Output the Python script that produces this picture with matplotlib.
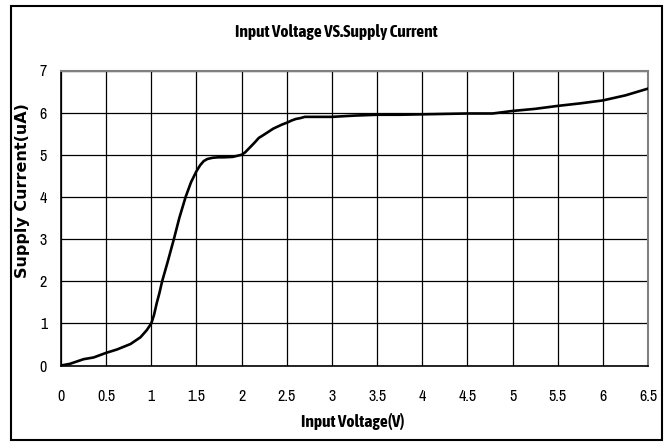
import matplotlib
matplotlib.use("Agg")
import matplotlib.pyplot as plt
from matplotlib import font_manager
from matplotlib.patches import Rectangle

# curve
voltage = [0, 0.1, 0.25, 0.36, 0.5, 0.62, 0.77, 0.88, 0.95, 1.0, 1.03, 1.06,
           1.09, 1.12, 1.18, 1.25, 1.31, 1.38, 1.44, 1.5, 1.54, 1.58, 1.62,
           1.68, 1.74, 1.8, 1.9, 2.0, 2.04, 2.09, 2.14, 2.19, 2.25, 2.3, 2.35,
           2.4, 2.45, 2.5, 2.55, 2.6, 2.65, 2.7, 2.8, 2.9, 3.0, 3.25, 3.5,
           3.75, 4.0, 4.25, 4.5, 4.78, 5.0, 5.25, 5.5, 5.75, 6.0, 6.25, 6.5]
current = [0, 0.04, 0.15, 0.19, 0.30, 0.38, 0.51, 0.67, 0.84, 1.0, 1.2, 1.48,
           1.72, 2.0, 2.45, 3.0, 3.5, 4.0, 4.35, 4.61, 4.75, 4.85, 4.9,
           4.93, 4.94, 4.94, 4.95, 5.0, 5.06, 5.17, 5.28, 5.4, 5.48, 5.55, 5.62,
           5.67, 5.72, 5.76, 5.81, 5.85, 5.87, 5.9, 5.9, 5.9, 5.9, 5.93, 5.95,
           5.95, 5.96, 5.97, 5.98, 5.98, 6.04, 6.09, 6.16, 6.22, 6.29, 6.41, 6.57]

x_ticks = [0, 0.5, 1, 1.5, 2, 2.5, 3, 3.5, 4, 4.5, 5, 5.5, 6, 6.5]
x_tick_labels = ["0", "0.5", "1", "1.5", "2", "2.5", "3", "3.5", "4", "4.5",
                 "5", "5.5", "6", "6.5"]
y_ticks = [0, 1, 2, 3, 4, 5, 6, 7]


def weight_num(w):
    if isinstance(w, str):
        return font_manager.weight_dict.get(w, 400)
    return w


# look for narrow fonts like the Arial Narrow in the original
fonts = font_manager.fontManager.ttflist
is_narrow = lambda f: "Narrow" in f.name or "Condensed" in f.name
narrow_reg = sorted({f.name for f in fonts if is_narrow(f)})
narrow_bold = sorted({f.name for f in fonts if is_narrow(f) and weight_num(f.weight) >= 600})
narrow = narrow_reg[:1] + ["Liberation Sans", "DejaVu Sans"]
narrow_b = (narrow_bold[:1] or narrow_reg[:1]) + ["Liberation Sans", "DejaVu Sans"]

fig = plt.figure(figsize=(6.7, 4.42), dpi=100)
ax = fig.add_axes([61 / 670, 1 - 365.5 / 442, 587 / 670, 295 / 442])

ax.plot(voltage, current, color="black", linewidth=1.9,
        solid_joinstyle="round", solid_capstyle="round", zorder=3)

ax.set_xlim(0, 6.5)
ax.set_ylim(0, 7)
ax.set_xticks(x_ticks)
ax.set_xticklabels(x_tick_labels, fontfamily=narrow, fontsize=11.5)
ax.set_yticks(y_ticks)
ax.set_yticklabels([str(v) for v in y_ticks], fontfamily=narrow, fontsize=11.5)
ax.tick_params(length=0)
ax.tick_params(axis="x", pad=17)
ax.tick_params(axis="y", pad=10)
ax.grid(True, color="black", linewidth=0.9)

for side in ["left", "bottom"]:
    ax.spines[side].set_color("black")
    ax.spines[side].set_linewidth(1.2)
for side in ["top", "right"]:
    ax.spines[side].set_color("#808080")
    ax.spines[side].set_linewidth(1.5)

fig.text(336 / 670, 1 - 32 / 442, "Input Voltage VS.Supply Current",
         ha="center", va="center", fontfamily=narrow_b, fontweight="bold", fontsize=12.5)
fig.text(353 / 670, 1 - 421 / 442, "Input Voltage(V)",
         ha="center", va="center", fontfamily=narrow_b, fontweight="bold", fontsize=12.5)
fig.text(23 / 670, 1 - 191 / 442, "Supply Current(uA)", rotation=90,
         ha="center", va="center", fontfamily="DejaVu Sans", fontweight="bold",
         fontsize=11.5)

# outer frame around the whole chart
fig.patches.append(Rectangle((11 / 670, 1 - 440 / 442), 651 / 670, 434 / 442,
                             transform=fig.transFigure, fill=False,
                             edgecolor="black", linewidth=1.5))

fig.savefig("out.png", dpi=100)
